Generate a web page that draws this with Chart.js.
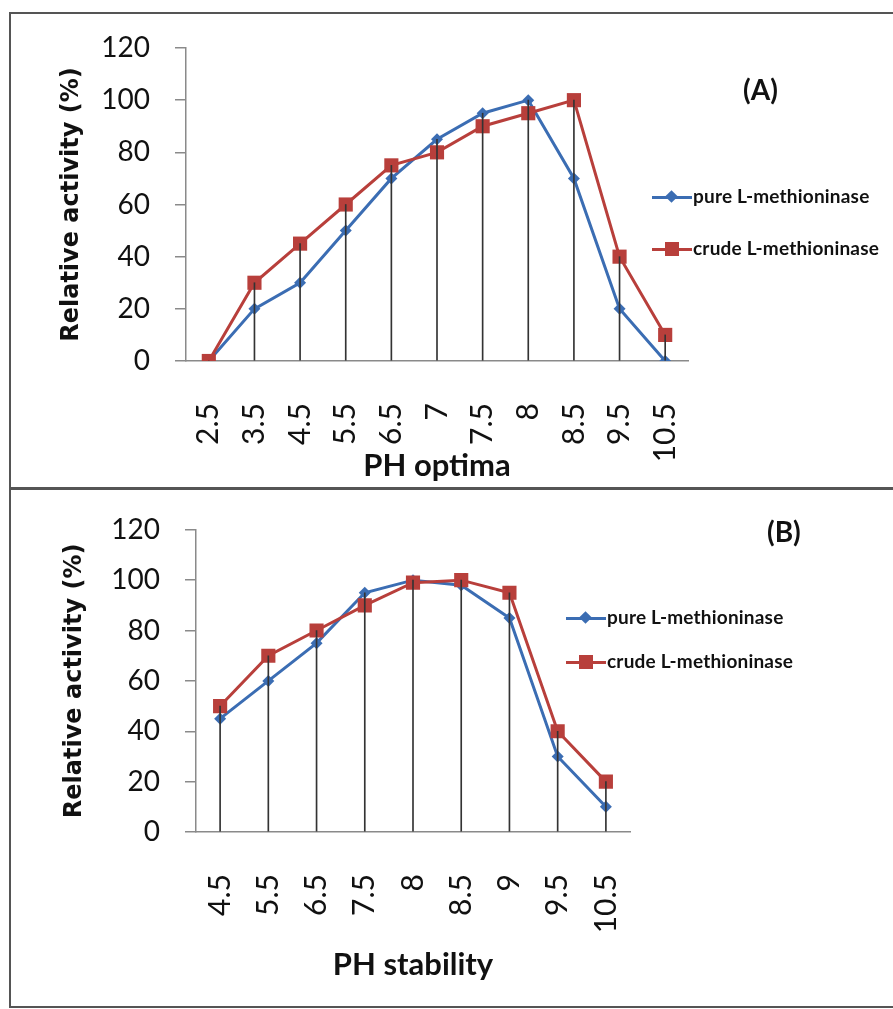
<!DOCTYPE html>
<html>
<head>
<meta charset="utf-8">
<script src="https://cdn.jsdelivr.net/npm/chart.js@4.4.0/dist/chart.umd.min.js"></script>
<style>
body { margin:0; background:#fff; }
#page { position:relative; width:893px; height:1009px; overflow:hidden; background:#fff; }
.rule { position:absolute; background:#555; }
canvas { position:absolute; left:0; }
.legend { position:absolute; font-family:Lato, sans-serif; font-weight:bold; font-size:19px; letter-spacing:0.2px; color:#111; }
.row { position:absolute; left:0; height:20px; white-space:nowrap; }
.row .line { position:absolute; left:0; top:9px; width:40px; height:3px; }
.row .mark { position:absolute; }
.row .txt { position:absolute; left:41px; top:-2px; line-height:22px; }
.tag { position:absolute; font-family:Lato, sans-serif; font-weight:bold; font-size:28px; color:#111; }
</style>
</head>
<body>
<div id="page">
  <div class="rule" style="left:9px;top:12px;width:884px;height:2px"></div>
  <div class="rule" style="left:9px;top:12px;width:2px;height:995px"></div>
  <div class="rule" style="left:9px;top:487px;width:884px;height:3px"></div>
  <div class="rule" style="left:9px;top:1006px;width:884px;height:2px"></div>

  <canvas id="chartA" width="893" height="487" style="top:0"></canvas>
  <canvas id="chartB" width="893" height="520" style="top:488px"></canvas>

  <div class="tag" style="left:743px;top:72px">(A)</div>
  <div class="tag" style="left:767px;top:514px">(B)</div>

  <div class="legend" style="left:652px;top:187px">
    <div class="row" style="top:0"><div class="line" style="background:#3b6db3"></div><div class="mark" style="left:15px;top:5px;width:9px;height:9px;background:#3b6db3;transform:rotate(45deg)"></div><div class="txt">pure L-methioninase</div></div>
    <div class="row" style="top:52px"><div class="line" style="background:#b83f3b"></div><div class="mark" style="left:13px;top:3px;width:14px;height:14px;background:#b83f3b"></div><div class="txt">crude L-methioninase</div></div>
  </div>
  <div class="legend" style="left:566px;top:608px">
    <div class="row" style="top:0"><div class="line" style="background:#3b6db3"></div><div class="mark" style="left:15px;top:5px;width:9px;height:9px;background:#3b6db3;transform:rotate(45deg)"></div><div class="txt">pure L-methioninase</div></div>
    <div class="row" style="top:44px"><div class="line" style="background:#b83f3b"></div><div class="mark" style="left:13px;top:3px;width:14px;height:14px;background:#b83f3b"></div><div class="txt">crude L-methioninase</div></div>
  </div>
</div>

<script>
// (A) pH optima
const phOptima = ['2.5', '3.5', '4.5', '5.5', '6.5', '7', '7.5', '8', '8.5', '9.5', '10.5'];
const pureOptima = [0, 20, 30, 50, 70, 85, 95, 100, 70, 20, 0];
const crudeOptima = [0, 30, 45, 60, 75, 80, 90, 95, 100, 40, 10];

// (B) pH stability
const phStability = ['4.5', '5.5', '6.5', '7.5', '8', '8.5', '9', '9.5', '10.5'];
const pureStability = [45, 60, 75, 95, 100, 98, 85, 30, 10];
const crudeStability = [50, 70, 80, 90, 99, 100, 95, 40, 20];

const yMin = 0;
const yMax = 120;
const yStep = 20;

const BLUE = '#3b6db3';
const RED = '#b83f3b';
const AXIS = '#8a8a8a';

function makeChart(id, labels, pure, crude, xTitle, g) {
    const ctx = document.getElementById(id).getContext('2d');
    // drop lines, from the higher of the two points down to the axis
    const drop = labels.map((l, i) => Math.max(pure[i], crude[i]));

    return new Chart(ctx, {
        type: 'line',
        data: {
            labels: labels,
            datasets: [
                {
                    type: 'bar',
                    data: drop,
                    backgroundColor: '#333',
                    barThickness: 1,
                    order: 1
                },
                {
                    label: 'crude L-methioninase',
                    data: crude,
                    borderColor: RED,
                    backgroundColor: RED,
                    borderWidth: 3,
                    pointStyle: 'rect',
                    pointRadius: 10,
                    pointBorderWidth: 0,
                    tension: 0,
                    order: 2
                },
                {
                    label: 'pure L-methioninase',
                    data: pure,
                    borderColor: BLUE,
                    backgroundColor: BLUE,
                    borderWidth: 3,
                    pointStyle: 'rectRot',
                    pointRadius: 6,
                    pointBorderWidth: 0,
                    tension: 0,
                    order: 3
                }
            ]
        },
        options: {
            responsive: false,
            animation: false,
            layout: { padding: { top: g.top, right: g.right, left: 0, bottom: 0 } },
            plugins: { legend: { display: false }, tooltip: { enabled: false } },
            scales: {
                x: {
                    offset: true,
                    grid: { display: false },
                    border: { color: AXIS, width: 1.5 },
                    ticks: {
                        minRotation: 90,
                        maxRotation: 90,
                        autoSkip: false,
                        padding: 34,
                        color: '#111',
                        font: { family: 'Lato', size: 30 }
                    },
                    title: {
                        display: true,
                        text: xTitle,
                        color: '#111',
                        font: { family: 'Lato', size: 31, weight: 'bold' },
                        padding: { top: 0, bottom: g.xTitlePad }
                    },
                    afterFit: s => { s.height = g.xHeight; }
                },
                y: {
                    min: yMin,
                    max: yMax,
                    grid: { drawOnChartArea: false, tickLength: 11, color: AXIS, lineWidth: 1.5 },
                    border: { color: AXIS, width: 1.5 },
                    ticks: {
                        stepSize: yStep,
                        padding: 25,
                        color: '#111',
                        font: { family: 'Lato', size: 28 }
                    },
                    title: {
                        display: true,
                        text: 'Relative activity (%)',
                        color: '#111',
                        font: { family: 'DejaVu Sans', size: 24, weight: 'bold' },
                        padding: { top: g.yTitlePad, bottom: 0 }
                    },
                    afterFit: s => { s.width = g.yWidth; }
                }
            }
        }
    });
}

makeChart('chartA', phOptima, pureOptima, crudeOptima, 'PH optima',
    { top: 48, right: 205, xHeight: 126, xTitlePad: 2, yWidth: 186, yTitlePad: 57 });
makeChart('chartB', phStability, pureStability, crudeStability, 'PH stability',
    { top: 31, right: 263, xHeight: 176, xTitlePad: 24, yWidth: 196, yTitlePad: 60 });
</script>
</body>
</html>
